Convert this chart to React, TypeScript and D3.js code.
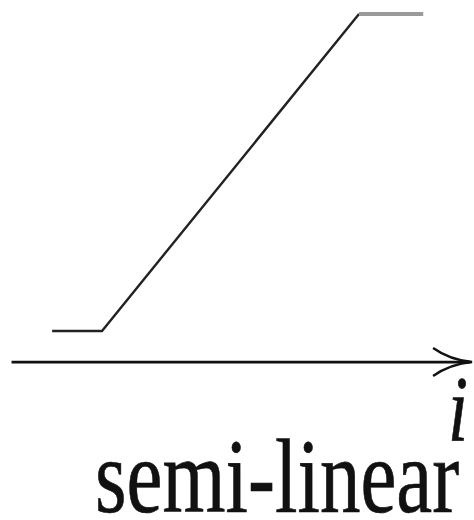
import React from "react";
import * as d3 from "d3";

const knotsX = [-0.97, 0, 5];
const knotsY = [0, 0, 1];
const saturX = [5, 6.25];
const saturY = [1, 1];
const axisRange = [-1.76, 7.2];
const axisLevel = -0.098;
const axisLabel = "i";
const title = "semi-linear";

const SERIF = "'Liberation Serif', 'Times New Roman', Times, serif";

export default function App() {
  const W = 474, H = 520;
  const x = d3.scaleLinear().domain([0, 5]).range([102, 359]);
  const y = d3.scaleLinear().domain([0, 1]).range([331, 14]);
  const mk = (xs: number[], ys: number[]) =>
    d3.line<[number, number]>().x(d => x(d[0])).y(d => y(d[1]))(xs.map((v, i) => [v, ys[i]]))!;
  const ax0 = x(axisRange[0]);
  const ax1 = x(axisRange[1]);
  const ay = y(axisLevel);
  return (
    <svg width={W} height={H} style={{ position: "absolute", left: 0, top: 0, background: "#fff" }}>
      <path d={mk(knotsX, knotsY)} fill="none" stroke="#222" strokeWidth={2.4} />
      <path d={mk(saturX, saturY)} fill="none" stroke="#9a9a9a" strokeWidth={4} />
      <line x1={ax0} x2={ax1 - 2} y1={ay} y2={ay} stroke="#111" strokeWidth={2.8} />
      <path
        d={`M${ax1 - 39},${ay - 14} Q${ax1 - 22},${ay - 2} ${ax1},${ay} Q${ax1 - 22},${ay + 2} ${ax1 - 39},${ay + 14}`}
        fill="none"
        stroke="#111"
        strokeWidth={2.4}
      />
      <g transform="scale(1,1.3)">
        <text x={458} y={440 / 1.3} style={{ fontFamily: SERIF }} fontStyle="italic" fontSize={72} textAnchor="middle" fill="#111" stroke="#111" strokeWidth={0.5}>
          {axisLabel}
        </text>
        <text x={95} y={512 / 1.3} style={{ fontFamily: SERIF }} fontSize={81} fill="#111" stroke="#111" strokeWidth={0.5}>
          {title}
        </text>
      </g>
    </svg>
  );
}
